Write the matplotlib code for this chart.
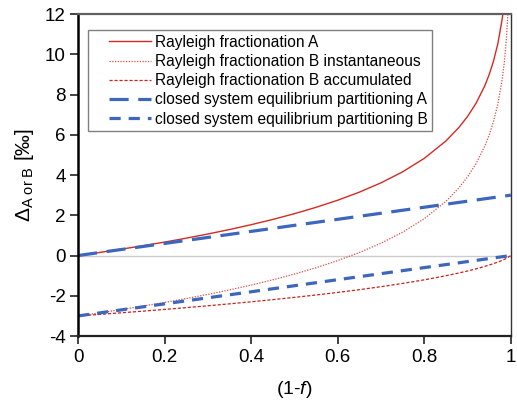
import matplotlib
matplotlib.use('Agg')
import matplotlib.pyplot as plt
from matplotlib.legend_handler import HandlerLine2D
from matplotlib.lines import Line2D

plt.rcParams['font.family'] = ['Liberation Sans', 'DejaVu Sans']
plt.rcParams['mathtext.fontset'] = 'custom'
plt.rcParams['mathtext.rm'] = 'Liberation Sans'
plt.rcParams['mathtext.it'] = 'Liberation Sans:italic'
plt.rcParams['axes.unicode_minus'] = False

# (1-f) 값
x = [0, 0.05, 0.1, 0.15, 0.2, 0.25, 0.3, 0.35, 0.4, 0.45, 0.5, 0.55, 0.6, 0.65,
     0.7, 0.75, 0.8, 0.85, 0.88, 0.9, 0.92, 0.94, 0.95, 0.96, 0.97, 0.98, 0.985,
     0.99, 0.993, 0.995]
rayleigh_a = [0, 0.154, 0.316, 0.488, 0.669, 0.863, 1.070, 1.292, 1.532, 1.794,
              2.079, 2.396, 2.749, 3.149, 3.612, 4.159, 4.828, 5.691, 6.361, 6.908,
              7.577, 8.440, 8.987, 9.657, 10.520, 11.736, 12.599, 13.816, 14.885, 15.895]
rayleigh_b_inst = [-3, -2.846, -2.684, -2.512, -2.331, -2.137, -1.930, -1.708, -1.468,
                   -1.206, -0.921, -0.604, -0.251, 0.149, 0.612, 1.159, 1.828, 2.691,
                   3.361, 3.908, 4.577, 5.440, 5.987, 6.657, 7.520, 8.736, 9.599,
                   10.816, 11.885, 12.895]

x_acc = [0, 0.05, 0.1, 0.15, 0.2, 0.25, 0.3, 0.35, 0.4, 0.45, 0.5, 0.55, 0.6, 0.65,
         0.7, 0.75, 0.8, 0.85, 0.88, 0.9, 0.92, 0.94, 0.95, 0.96, 0.97, 0.98, 0.99, 1.0]
rayleigh_b_acc = [-3, -2.924, -2.845, -2.763, -2.678, -2.589, -2.497, -2.400, -2.299,
                  -2.192, -2.079, -1.960, -1.833, -1.696, -1.548, -1.386, -1.207, -1.004,
                  -0.867, -0.768, -0.659, -0.539, -0.473, -0.402, -0.325, -0.240, -0.140, 0]

x_eq = [0, 1]
closed_a = [0, 3]
closed_b = [-3, 0]

labels = ['Rayleigh fractionation A', 'Rayleigh fractionation B instantaneous',
          'Rayleigh fractionation B accumulated',
          'closed system equilibrium partitioning A',
          'closed system equilibrium partitioning B']

fig = plt.figure(figsize=(5.17, 4.01), dpi=100)
ax = fig.add_axes([0.151, 0.162, 0.837, 0.803])

ax.axhline(0, color='#cccccc', lw=1, zorder=1)

ax.plot(x, rayleigh_a, color='#d42a22', lw=1.0, label=labels[0])
ax.plot(x, rayleigh_b_inst, color='#e04a44', lw=0.9, ls=(0, (1, 1.2)), label=labels[1])
ax.plot(x_acc, rayleigh_b_acc, color='#c8231c', lw=0.9, ls=(0, (2.5, 1.5)), label=labels[2])
ax.plot(x_eq, closed_a, color='#3d66bd', lw=2.3, ls=(0, (6, 3)), label=labels[3])
ax.plot(x_eq, closed_b, color='#3d66bd', lw=2.3, ls=(0, (3.5, 2.5)), label=labels[4])

ax.set_xlim(0, 1)
ax.set_ylim(-4, 12)
ax.set_xticks([0, 0.2, 0.4, 0.6, 0.8, 1])
ax.set_xticklabels(['0', '0.2', '0.4', '0.6', '0.8', '1'])
ax.set_yticks(range(-4, 13, 2))
ax.tick_params(direction='out', length=6, width=1.2, labelsize=13.5, color='#222222', pad=3)

ax.spines['left'].set_linewidth(1.8)
ax.spines['left'].set_color('black')
ax.spines['bottom'].set_linewidth(1.6)
ax.spines['bottom'].set_color('#222222')
ax.spines['top'].set_linewidth(1.6)
ax.spines['top'].set_color('#606060')
ax.spines['right'].set_linewidth(1.0)
ax.spines['right'].set_color('#333333')

ax.set_xlabel('(1-$f$)', fontsize=14, labelpad=10)
ax.set_ylabel(r'$\Delta_{\mathrm{A\ or\ B}}$ [‰]', fontsize=15, labelpad=6)

leg = ax.legend(loc='upper left', bbox_to_anchor=(0.023, 0.95), fontsize=11.2,
                fancybox=False, frameon=True, edgecolor='#808080', framealpha=1,
                handlelength=3.75, handletextpad=0.25, borderpad=0.3, labelspacing=0.27,
                borderaxespad=0, handler_map={Line2D: HandlerLine2D(xpad=1.07)})
leg.get_frame().set_linewidth(1.0)

plt.savefig('out.png', dpi=100)
